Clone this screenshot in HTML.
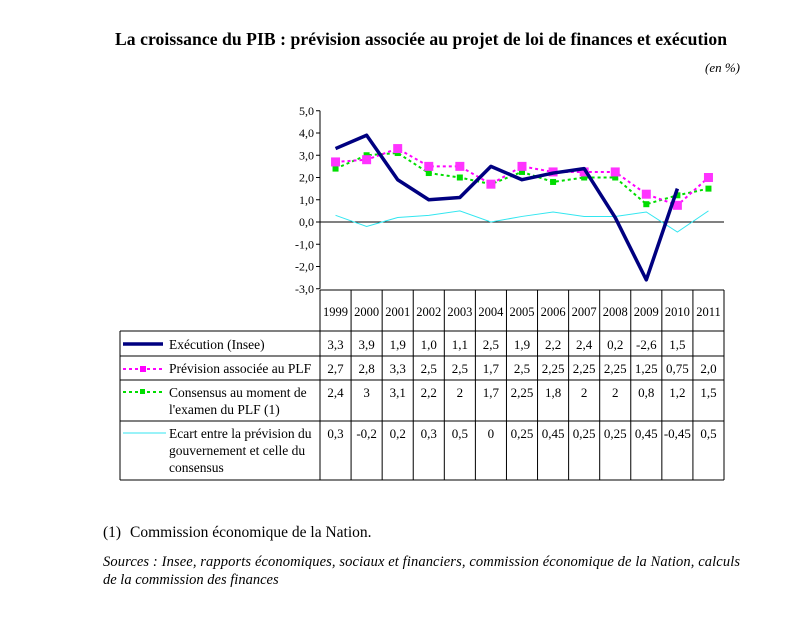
<!DOCTYPE html>
<html><head><meta charset="utf-8"><style>
body{margin:0;background:#fff;width:811px;height:618px;overflow:hidden;font-family:"Liberation Serif",serif;}
svg{position:absolute;left:0;top:0}
</style></head><body>
<svg width="811" height="618" font-family="Liberation Serif, serif">
<text x="421" y="45" text-anchor="middle" font-size="17.6" font-weight="bold" textLength="612">La croissance du PIB : prévision associée au projet de loi de finances et exécution</text>
<text x="740" y="72" text-anchor="end" font-size="13" font-style="italic">(en %)</text>
<g id="plot"></g>
<g id="table"></g>
<text x="103" y="537" font-size="15.5">(1)</text>
<text x="130" y="537" font-size="15.5">Commission économique de la Nation.</text>
<text x="103" y="566" font-size="14.5" font-style="italic" textLength="637">Sources : Insee, rapports économiques, sociaux et financiers, commission économique de la Nation, calculs</text>
<text x="103" y="584" font-size="14.5" font-style="italic">de la commission des finances</text>
</svg>
<script>
const years=["1999","2000","2001","2002","2003","2004","2005","2006","2007","2008","2009","2010","2011"];
const execution=[3.3,3.9,1.9,1.0,1.1,2.5,1.9,2.2,2.4,0.2,-2.6,1.5,null];
const prevision=[2.7,2.8,3.3,2.5,2.5,1.7,2.5,2.25,2.25,2.25,1.25,0.75,2.0];
const consensus=[2.4,3,3.1,2.2,2,1.7,2.25,1.8,2,2,0.8,1.2,1.5];
const ecart=[0.3,-0.2,0.2,0.3,0.5,0,0.25,0.45,0.25,0.25,0.45,-0.45,0.5];
const execLabels=["3,3","3,9","1,9","1,0","1,1","2,5","1,9","2,2","2,4","0,2","-2,6","1,5",""];
const prevLabels=["2,7","2,8","3,3","2,5","2,5","1,7","2,5","2,25","2,25","2,25","1,25","0,75","2,0"];
const consLabels=["2,4","3","3,1","2,2","2","1,7","2,25","1,8","2","2","0,8","1,2","1,5"];
const ecartLabels=["0,3","-0,2","0,2","0,3","0,5","0","0,25","0,45","0,25","0,25","0,45","-0,45","0,5"];
const yTicks=[5,4,3,2,1,0,-1,-2,-3];
const NS="http://www.w3.org/2000/svg";
const X0=320,X1=724,cw=(X1-X0)/years.length;
const xs=i=>X0+cw*(i+0.5);
const ys=v=>222-v*22.25;
function mk(tag,at,parent){const e=document.createElementNS(NS,tag);for(const k in at)e.setAttribute(k,at[k]);parent.appendChild(e);return e;}
const plot=document.getElementById('plot'),tbl=document.getElementById('table');
let ax=mk('line',{x1:X0,y1:ys(5),x2:X0,y2:ys(-3),stroke:'#000'},plot);


let zl=mk('line',{x1:X0,y1:ys(0),x2:X1,y2:ys(0),stroke:'#000'},plot);


yTicks.forEach(t=>{
 mk('line',{x1:X0-4,y1:ys(t),x2:X0,y2:ys(t),stroke:'#000'},plot);
 const tx=mk('text',{x:X0-6,y:ys(t)+4,'text-anchor':'end','font-size':12},plot);
 tx.textContent=t.toFixed(1).replace('.',',');
 
 
});
function series(vals,name,st,marker){
 let d='';vals.forEach((v,i)=>{if(v==null)return;d+=(d?'L':'M')+xs(i)+','+ys(v);});
 const p=mk('path',Object.assign({d:d,fill:'none'},st),plot);
 
 
 if(marker)vals.forEach((v,i)=>{if(v==null)return;
  const r=mk('rect',{x:xs(i)-marker.s/2,y:ys(v)-marker.s/2,width:marker.s,height:marker.s,fill:marker.c},plot);
  
  });
}
series(ecart,'ecart',{stroke:'#33e6f0','stroke-width':1});
series(consensus,'consensus',{stroke:'#00dd00','stroke-width':2,'stroke-dasharray':'3,3'},{s:6,c:'#00dd00'});
series(prevision,'prevision',{stroke:'#ff00ff','stroke-width':2,'stroke-dasharray':'3,3'},{s:9,c:'#ff33ff'});
series(execution,'execution',{stroke:'#000080','stroke-width':3.5,'stroke-linejoin':'round'});
const rows=[290,331,356,380,421,480];
const L=120;
mk('line',{x1:X0,y1:290,x2:X1,y2:290,stroke:'#000'},tbl);
for(let r=1;r<rows.length;r++)mk('line',{x1:L,y1:rows[r],x2:X1,y2:rows[r],stroke:'#000'},tbl);
mk('line',{x1:L,y1:331,x2:L,y2:480,stroke:'#000'},tbl);
for(let i=0;i<=years.length;i++)mk('line',{x1:X0+cw*i,y1:290,x2:X0+cw*i,y2:480,stroke:'#000'},tbl);
years.forEach((y,i)=>{const t=mk('text',{x:xs(i),y:316,'text-anchor':'middle','font-size':12.5},tbl);t.textContent=y;
 
 });
const labelSets=[execLabels,prevLabels,consLabels,ecartLabels];
const rowY=[349,373,397,438];
labelSets.forEach((ls,r)=>ls.forEach((s,i)=>{const t=mk('text',{x:xs(i),y:rowY[r],'text-anchor':'middle','font-size':13},tbl);t.textContent=s;
 
 }));
mk('line',{x1:123,y1:344,x2:163,y2:344,stroke:'#000080','stroke-width':3.5},tbl);
mk('line',{x1:123,y1:369,x2:163,y2:369,stroke:'#ff00ff','stroke-width':2,'stroke-dasharray':'3,3'},tbl);
mk('rect',{x:140,y:366,width:6,height:6,fill:'#ff00ff'},tbl);
mk('line',{x1:123,y1:392,x2:163,y2:392,stroke:'#00dd00','stroke-width':2,'stroke-dasharray':'3,3'},tbl);
mk('rect',{x:140,y:389,width:5,height:5,fill:'#00dd00'},tbl);
mk('line',{x1:123,y1:433,x2:166,y2:433,stroke:'#33e6f0','stroke-width':1},tbl);
const leg=[[169,349,"Exécution (Insee)"],[169,373,"Prévision associée au PLF"],[169,397,"Consensus au moment de"],[169,414,"l'examen du PLF (1)"],[169,438,"Ecart entre la prévision du"],[169,455,"gouvernement et celle du"],[169,472,"consensus"]];
leg.forEach(l=>{const t=mk('text',{x:l[0],y:l[1],'font-size':13.5},tbl);t.textContent=l[2];
 
 });
</script>
</body></html>
